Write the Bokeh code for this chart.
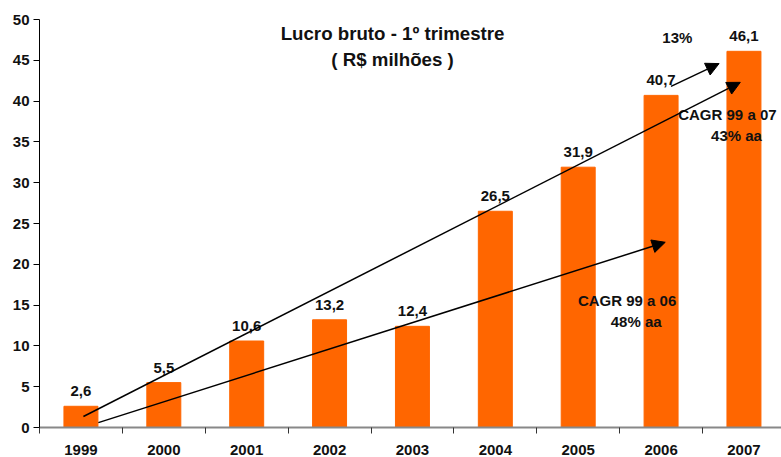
from bokeh.plotting import figure
from bokeh.models import (ColumnDataSource, FixedTicker, Arrow, NormalHead, Label, Range1d)
from bokeh.core.properties import value
from bokeh.embed import file_html
from bokeh.resources import INLINE

years = ["1999", "2000", "2001", "2002", "2003", "2004", "2005", "2006", "2007"]
lucro = [2.6, 5.5, 10.6, 13.2, 12.4, 26.5, 31.9, 40.7, 46.1]
rotulos = ["2,6", "5,5", "10,6", "13,2", "12,4", "26,5", "31,9", "40,7", "46,1"]
y_ticks = [0, 5, 10, 15, 20, 25, 30, 35, 40, 45, 50]

FONT = "Liberation Sans"
ORANGE = "#FF6600"

xs = list(range(len(years)))
src = ColumnDataSource(dict(x=xs, top=lucro, lab=rotulos))

p = figure(width=781, height=457, output_backend="svg", toolbar_location=None,
           x_range=Range1d(-0.5, 8.453), y_range=Range1d(0, 50),
           min_border_left=39, min_border_right=0, min_border_top=19, min_border_bottom=30)
p.outline_line_color = None
p.xgrid.visible = False
p.ygrid.visible = False

p.vbar(x="x", top="top", width=0.41, color=ORANGE, source=src)

p.text(x="x", y="top", text="lab", source=src, text_align="center", text_baseline="alphabetic",
       y_offset=-15, text_font=value(FONT), text_font_style="bold", text_font_size="15px",
       text_color="#111111")

# axes
yax = p.yaxis[0]
yax.ticker = FixedTicker(ticks=y_ticks)
yax.axis_line_color = "black"
yax.major_tick_line_color = "black"
yax.major_tick_out = 6
yax.major_tick_in = 0
yax.minor_tick_line_color = None
yax.major_label_standoff = 4
yax.major_label_text_font = FONT
yax.major_label_text_font_style = "bold"
yax.major_label_text_font_size = "15px"
yax.major_label_text_color = "#111111"

xax = p.xaxis[0]
xax.ticker = FixedTicker(ticks=xs, minor_ticks=[i - 0.5 for i in range(len(years) + 1)])
xax.major_label_overrides = {i: y for i, y in enumerate(years)}
xax.axis_line_color = "#888888"
xax.axis_line_width = 2
xax.major_tick_line_color = None
xax.major_tick_out = 0
xax.major_tick_in = 0
xax.minor_tick_line_color = "#333333"
xax.minor_tick_out = 6
xax.minor_tick_in = 0
xax.major_label_standoff = 11
xax.major_label_text_font = FONT
xax.major_label_text_font_style = "bold"
xax.major_label_text_font_size = "15px"
xax.major_label_text_color = "#111111"

# title
for txt, yy in [("Lucro bruto - 1º trimestre", 48.3), ("( R$ milhões )", 45.1)]:
    p.add_layout(Label(x=3.76, y=yy, text=txt, text_align="center", text_baseline="middle",
                       text_font=FONT, text_font_style="bold", text_font_size="18.7px",
                       text_color="#111111"))

# annotations
for txt, xx, yy in [("13%", 7.196, 47.8), ("CAGR 99 a 07", 7.80, 38.36), ("43% aa", 7.91, 35.78),
                    ("CAGR 99 a 06", 6.59, 15.56), ("48% aa", 6.70, 12.99)]:
    p.add_layout(Label(x=xx, y=yy, text=txt, text_align="center", text_baseline="middle",
                       text_font=FONT, text_font_style="bold", text_font_size="15px",
                       text_color="#111111"))

for (x0, y0, x1, y1) in [(0.03, 1.35, 7.956, 42.3), (0.21, 0.6, 7.05, 22.7), (7.12, 41.8, 7.70, 44.6)]:
    p.add_layout(Arrow(x_start=x0, y_start=y0, x_end=x1, y_end=y1, line_width=1.5, line_color="black",
                       end=NormalHead(size=13, fill_color="black", line_color="black")))

open("out.html", "w").write(file_html(p, INLINE))
